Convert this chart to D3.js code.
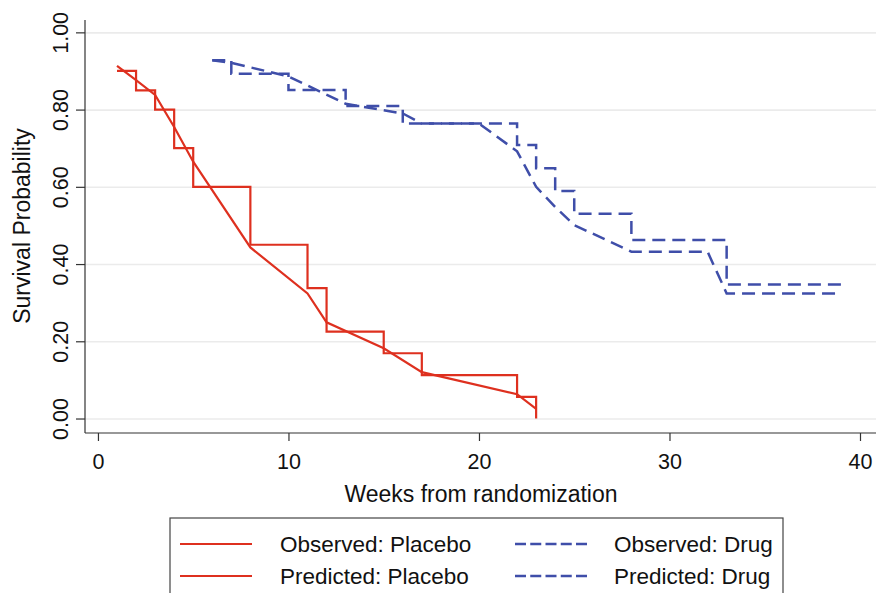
<!DOCTYPE html>
<html>
<head>
<meta charset="utf-8">
<script src="https://cdn.jsdelivr.net/npm/d3@7"></script>
<style>
  body { margin: 0; background: #fff; }
  svg { display: block; font-family: "Liberation Sans", Arial, sans-serif; }
</style>
</head>
<body>
<svg id="chart" width="880" height="593"></svg>
<script>
// Axis ticks
const xTicks = [0, 10, 20, 30, 40];
const yTicks = [0, 0.2, 0.4, 0.6, 0.8, 1.0];

// Observed (Kaplan-Meier) and predicted survival
const placeboObsTime = [1, 2, 3, 4, 5, 8, 11, 12, 15, 17, 22, 23];
const placeboObsSurv = [0.90, 0.85, 0.80, 0.70, 0.60, 0.45, 0.3375, 0.225, 0.169, 0.1125, 0.056, 0];

const placeboPredTime = [1, 2, 3, 4, 5, 8, 11, 12, 15, 17, 22, 23];
const placeboPredSurv = [0.913, 0.876, 0.838, 0.755, 0.665, 0.443, 0.324, 0.249, 0.182, 0.120, 0.063, 0.025];

const drugObsTime = [6, 7, 10, 13, 16, 22, 23, 24, 25, 28, 33, 39];
const drugObsSurv = [0.928, 0.893, 0.851, 0.809, 0.764, 0.708, 0.648, 0.589, 0.530, 0.462, 0.347, 0.347];

const drugPredTime = [6, 7, 10, 13, 16, 17, 20, 22, 23, 24, 25, 28, 32, 33, 39];
const drugPredSurv = [0.928, 0.921, 0.886, 0.815, 0.790, 0.764, 0.764, 0.692, 0.600, 0.548, 0.501, 0.432, 0.432, 0.324, 0.324];

const legendLabels = ["Observed: Placebo", "Observed: Drug", "Predicted: Placebo", "Predicted: Drug"];

const red = "#de301f";
const blue = "#3f4ea9";
const dash = "13,7";

const svg = d3.select("#chart");

// scales: domain padded so the axis lines run past the end ticks like the original
const x = d3.scaleLinear().domain([-0.68, 40.84]).range([85, 876]);
const y = d3.scaleLinear().domain([-0.0375, 1.032]).range([433, 20]);

// 1. gridlines
svg.append("g")
  .attr("transform", `translate(85,0)`)
  .call(d3.axisLeft(y).tickValues(yTicks).tickSize(-791).tickFormat(""))
  .call(g => g.select(".domain").remove())
  .call(g => g.selectAll("line").attr("stroke", "#ebebeb").attr("stroke-width", 1.6));

// 2. axes
const yAxis = svg.append("g")
  .attr("transform", `translate(85,0)`)
  .call(d3.axisLeft(y).tickValues(yTicks).tickSize(9).tickPadding(0).tickFormat(d3.format(".2f")));

yAxis.select(".domain").attr("stroke", "#333").attr("stroke-width", 1.2).attr("d", "M0,20V433");
yAxis.selectAll(".tick line").attr("stroke", "#333").attr("stroke-width", 1.2);
yAxis.selectAll(".tick text")
  .attr("x", 0).attr("y", 0).attr("dy", 0)
  .attr("transform", "translate(-17,0) rotate(-90)")
  .attr("text-anchor", "middle")
  .attr("font-size", 21.5)
  .attr("fill", "#111");

const xAxis = svg.append("g")
  .attr("transform", `translate(0,433)`)
  .call(d3.axisBottom(x).tickValues(xTicks).tickSize(8).tickPadding(0));

xAxis.select(".domain").attr("stroke", "#333").attr("stroke-width", 1.2).attr("d", "M85,0H876");
xAxis.selectAll(".tick line").attr("stroke", "#333").attr("stroke-width", 1.2);
xAxis.selectAll(".tick text")
  .attr("y", 36).attr("dy", 0)
  .attr("font-size", 21.5)
  .attr("fill", "#111");

// axis titles
svg.append("text")
  .attr("x", 481).attr("y", 502)
  .attr("text-anchor", "middle")
  .attr("font-size", 23)
  .attr("fill", "#111")
  .text("Weeks from randomization");

svg.append("text")
  .attr("transform", "translate(30,226) rotate(-90)")
  .attr("text-anchor", "middle")
  .attr("font-size", 23)
  .attr("fill", "#111")
  .text("Survival Probability");

// 3. curves
const stepLine = d3.line().x(d => x(d[0])).y(d => y(d[1])).curve(d3.curveStepAfter);
const straightLine = d3.line().x(d => x(d[0])).y(d => y(d[1]));

const plot = svg.append("g").attr("fill", "none").attr("stroke-width", 2.2);

plot.append("path")
  .datum(d3.zip(placeboObsTime, placeboObsSurv))
  .attr("stroke", red)
  .attr("d", stepLine);

plot.append("path")
  .datum(d3.zip(placeboPredTime, placeboPredSurv))
  .attr("stroke", red)
  .attr("d", straightLine);

plot.append("path")
  .datum(d3.zip(drugObsTime, drugObsSurv))
  .attr("stroke", blue)
  .attr("stroke-dasharray", dash)
  .attr("stroke-width", 2.5)
  .attr("d", stepLine);

plot.append("path")
  .datum(d3.zip(drugPredTime, drugPredSurv))
  .attr("stroke", blue)
  .attr("stroke-dasharray", dash)
  .attr("stroke-width", 2.5)
  .attr("d", straightLine);

// 4. legend
const legend = svg.append("g");
legend.append("rect")
  .attr("x", 170).attr("y", 518)
  .attr("width", 613).attr("height", 90)
  .attr("fill", "#fff")
  .attr("stroke", "#444")
  .attr("stroke-width", 1.2);

const legendItems = legendLabels.map((label, i) => ({
  label,
  col: i % 2,
  row: Math.floor(i / 2),
  color: i % 2 === 0 ? red : blue,
  dashed: i % 2 === 1
}));

const item = legend.selectAll("g.item")
  .data(legendItems)
  .join("g")
  .attr("class", "item")
  .attr("transform", d => `translate(${d.col === 0 ? 180 : 515},${d.row === 0 ? 544 : 576})`);

item.append("line")
  .attr("x1", 0).attr("x2", 72)
  .attr("y1", 0).attr("y2", 0)
  .attr("stroke", d => d.color)
  .attr("stroke-width", d => d.dashed ? 2.5 : 2.2)
  .attr("stroke-dasharray", d => d.dashed ? "11,4.25" : null);

item.append("text")
  .attr("x", d => d.col === 0 ? 100 : 99)
  .attr("y", 8)
  .attr("font-size", 22.5)
  .attr("fill", "#111")
  .text(d => d.label);
</script>
</body>
</html>
